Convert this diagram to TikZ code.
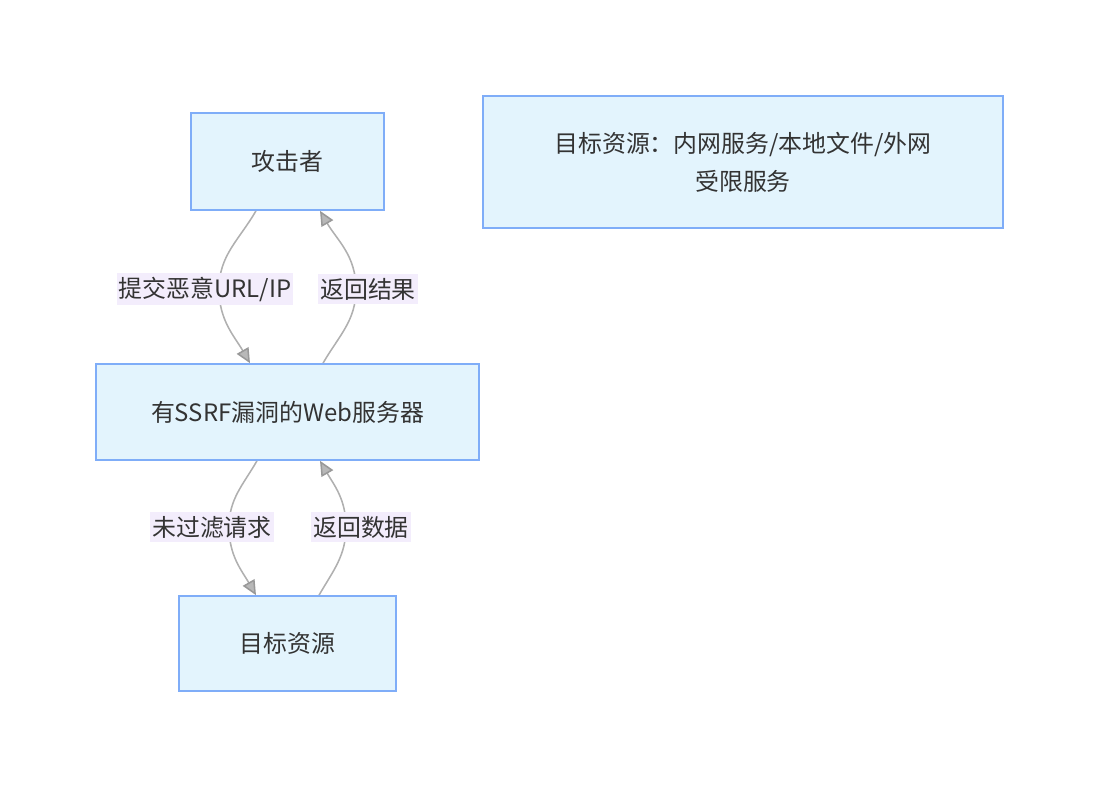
\documentclass[tikz,border=0pt]{standalone}
\usepackage{fontspec}
\setmainfont{Noto Sans CJK SC}
\usetikzlibrary{arrows.meta,calc,backgrounds}
\definecolor{boxfill}{HTML}{E3F4FD}
\definecolor{boxline}{HTML}{7FADF8}
\definecolor{lblfill}{HTML}{F3EDFC}
\definecolor{edgegray}{HTML}{B0B0B0}
\definecolor{tipgray}{HTML}{999999}
\definecolor{textgray}{HTML}{333333}

\begin{document}
\begin{tikzpicture}[x=0.025cm, y=-0.025cm,
  font=\fontsize{17}{27}\selectfont, text=textgray,
  box/.style={draw=boxline, fill=boxfill, line width=1.1pt, align=center},
  lbl/.style={fill=lblfill, inner xsep=1.5pt, inner ysep=2.5pt},
  flow/.style={draw=edgegray, line width=1.1pt,
    -{Triangle[length=10.5pt, width=9.5pt, color=tipgray, fill=tipgray!70]}}]
% Canvas
\useasboundingbox (0,0) rectangle (1099,788);
% Boxes
\node[box, minimum width=4.825cm, minimum height=2.425cm] (attacker) at (287.5,161.5) {攻击者};
\node[box, minimum width=9.575cm, minimum height=2.4cm] (server) at (287.5,412) {有SSRF漏洞的Web服务器};
\node[box, minimum width=5.425cm, minimum height=2.375cm] (target) at (287.5,643.5) {目标资源};
\node[box, minimum width=13cm, minimum height=3.3cm] (note) at (743,162) {目标资源：内网服务/本地文件/外网\\受限服务};
% Edge labels
\node[lbl] (submit) at (205,289) {提交恶意URL/IP};
\node[lbl] (result) at (368,289) {返回结果};
\node[lbl] (request) at (212,527) {未过滤请求};
\node[lbl] (data) at (361,527) {返回数据};
% Curve midpoints
\coordinate (m1) at (219,289);
\coordinate (m2) at (356,289);
\coordinate (m3) at (229,527);
\coordinate (m4) at (346,527);
% Connectors
\begin{pgfonlayer}{background}
\draw[flow] ($(attacker.south)+(-31.5,0)$) to[out=-120, in=90] (m1)
  to[out=-90, in=120] ($(server.north)+(-37.5,0)$);
\draw[flow] ($(server.north)+(35.5,0)$) to[out=60, in=-90] (m2)
  to[out=90, in=-60] ($(attacker.south)+(32.5,0)$);
\draw[flow] ($(server.south)+(-30.5,0)$) to[out=-120, in=90] (m3)
  to[out=-90, in=120] ($(target.north)+(-31.5,0)$);
\draw[flow] ($(target.north)+(31.5,0)$) to[out=60, in=-90] (m4)
  to[out=90, in=-60] ($(server.south)+(32.5,0)$);
\end{pgfonlayer}
\end{tikzpicture}
\end{document}
